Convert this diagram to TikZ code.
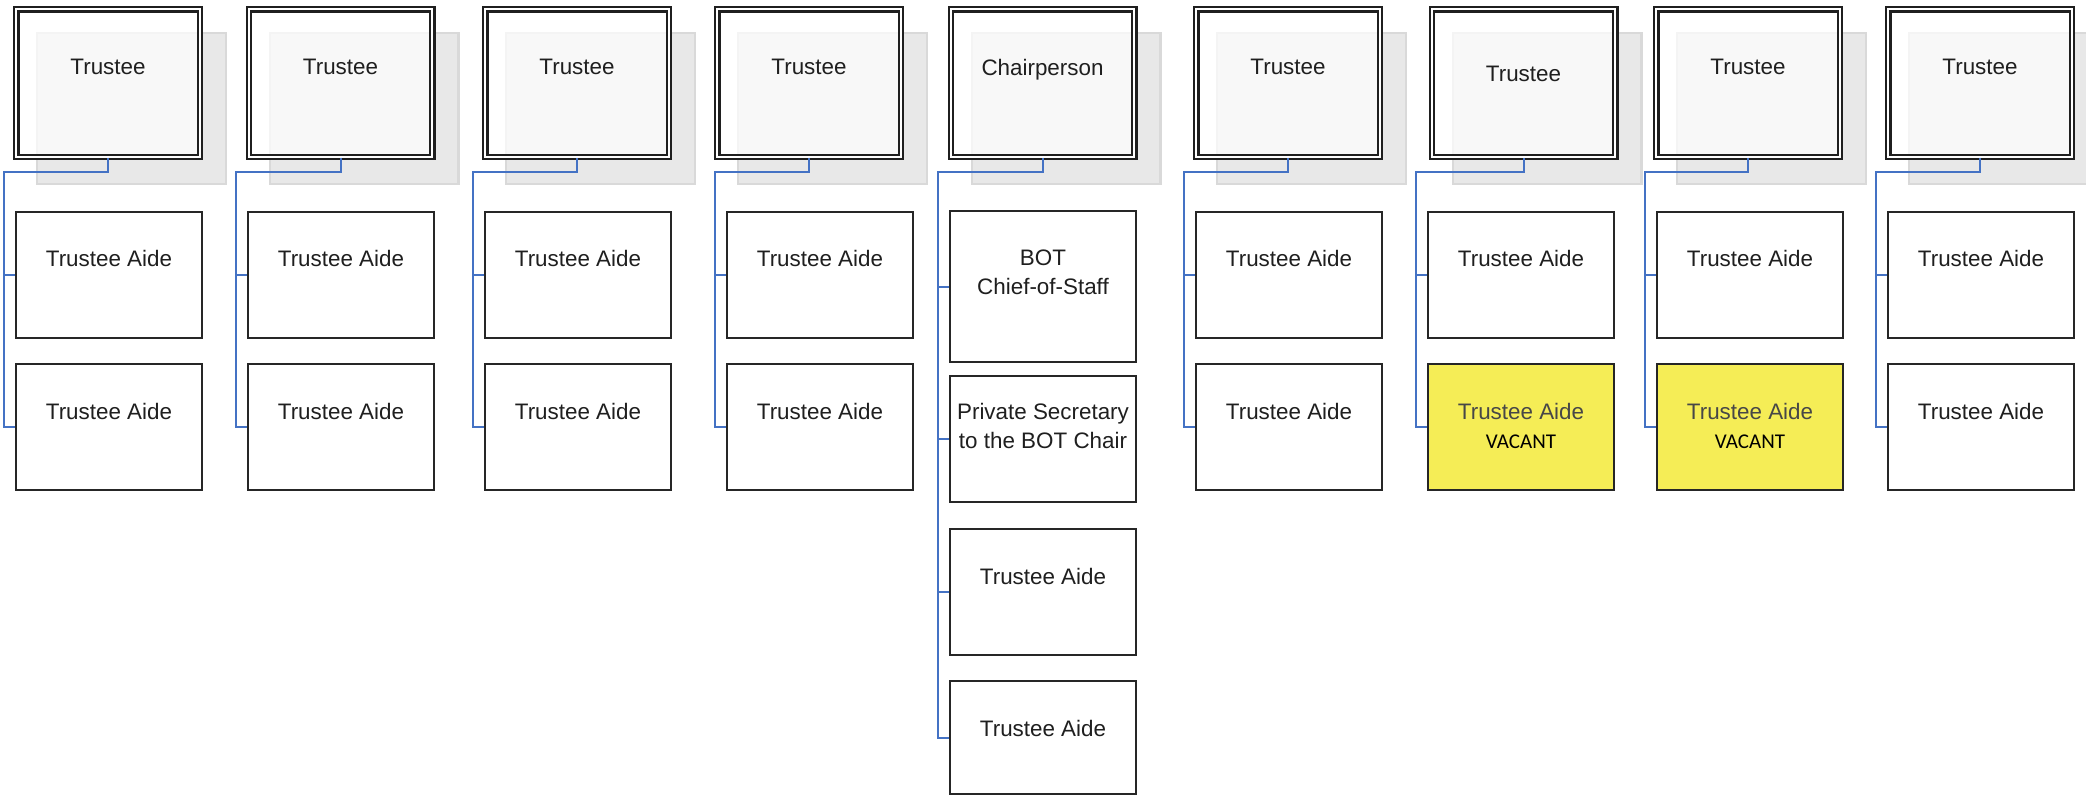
\documentclass[tikz,border=0pt]{standalone}
\usepackage{fontspec}
\setmainfont{Liberation Sans}
\newfontfamily\carlitofont{Carlito}
\usetikzlibrary{calc}

\definecolor{linkblue}{RGB}{68,114,196}
\definecolor{vacantyellow}{RGB}{245,237,86}
\newcommand{\vacantnote}{{\carlitofont\fontsize{10.5pt}{12pt}\selectfont\textcolor{black}{VACANT}}}

\begin{document}
\begin{tikzpicture}[x=0.5pt,y=-0.5pt,
    txt/.style={font=\fontsize{11.2pt}{14.5pt}\selectfont,text=black!88,inner sep=0pt,
      align=center,anchor=north,fill opacity=1,text opacity=1},
    shade/.style={draw=black!15,line width=1.2pt,fill=black!9,
      minimum width=94.3pt,minimum height=75.3pt,inner sep=0pt},
    head/.style={draw=black!88,line width=1.2pt,double=white,double distance=0.85pt,
      fill=white,fill opacity=0.72,minimum width=91.75pt,minimum height=73.75pt,
      inner sep=0pt,label={[txt,yshift=-25.5pt]north:{#1}}},
    box/.style={draw=black!85,line width=1pt,fill=white,minimum width=93pt,
      minimum height=63pt,inner sep=0pt},
    aide/.style={box,label={[txt,yshift=-19.8pt]north:{#1}}},
    link/.style={draw=linkblue,line width=1pt}]
  \useasboundingbox (0,0) rectangle (2086,798);
  \coordinate (bar) at (0,172);

  % shadows behind the trustees
  \node[shade] (s1) at (131.5,108.5) {};
  \node[shade] (s2) at (364,108.5) {};
  \node[shade] (s3) at (600.5,108.5) {};
  \node[shade] (s4) at (832.5,108.5) {};
  \node[shade] (s5) at (1066,108.5) {};
  \node[shade] (s6) at (1311.5,108.5) {};
  \node[shade] (s7) at (1547,108.5) {};
  \node[shade] (s8) at (1771.5,108.5) {};
  \node[shade] (s9) at (2003.5,108.5) {};

  % trustees
  \node[head=Trustee] (t1) at (108,83) {};
  \node[head=Trustee] (t2) at (340.5,83) {};
  \node[head=Trustee] (t3) at (577,83) {};
  \node[head=Trustee] (t4) at (809,83) {};
  \node[head=Chairperson] (t5) at (1042.5,83) {};
  \node[head=Trustee] (t6) at (1288,83) {};
  \node[head={},label={[txt,yshift=-29pt]north:Trustee}] (t7) at (1523.5,83) {};
  \node[head=Trustee] (t8) at (1748,83) {};
  \node[head=Trustee] (t9) at (1980,83) {};

  % aides
  \node[aide=Trustee Aide] (t1a) at (109,274.5) {};
  \node[aide=Trustee Aide] (t1b) at (109,427) {};
  \node[aide=Trustee Aide] (t2a) at (341,274.5) {};
  \node[aide=Trustee Aide] (t2b) at (341,427) {};
  \node[aide=Trustee Aide] (t3a) at (578,274.5) {};
  \node[aide=Trustee Aide] (t3b) at (578,427) {};
  \node[aide=Trustee Aide] (t4a) at (820,274.5) {};
  \node[aide=Trustee Aide] (t4b) at (820,427) {};
  \node[aide={BOT\\Chief-of-Staff},minimum height=75.5pt] (t5a) at (1043,286.5) {};
  \node[box,label={[txt,yshift=-14pt]north:{Private Secretary\\to the BOT Chair}}] (t5b) at (1043,439) {};
  \node[aide=Trustee Aide] (t5c) at (1043,592) {};
  \node[aide=Trustee Aide,minimum height=56.5pt] (t5d) at (1043,737.5) {};
  \node[aide=Trustee Aide] (t6a) at (1289,274.5) {};
  \node[aide=Trustee Aide] (t6b) at (1289,427) {};
  \node[aide=Trustee Aide] (t7a) at (1521,274.5) {};
  \node[box,fill=vacantyellow,label={[txt,text=black!72,yshift=-19.8pt]north:{Trustee Aide\\\vacantnote}}] (t7b) at (1521,427) {};
  \node[aide=Trustee Aide] (t8a) at (1750,274.5) {};
  \node[box,fill=vacantyellow,label={[txt,text=black!72,yshift=-19.8pt]north:{Trustee Aide\\\vacantnote}}] (t8b) at (1750,427) {};
  \node[aide=Trustee Aide] (t9a) at (1981,274.5) {};
  \node[aide=Trustee Aide] (t9b) at (1981,427) {};

  % connectors
  \foreach \c in {1,2,3,4,6,7,8,9} {
    \coordinate (j\c) at ($(t\c a.west |- bar)+(-11,0)$);
    \draw[link] (t\c.south) |- (j\c) |- (t\c b.west);
    \draw[link] (j\c) |- (t\c a.west);
  }
  \coordinate (j5) at ($(t5a.west |- bar)+(-11,0)$);
  \draw[link] (t5.south) |- (j5) |- (t5d.west);
  \draw[link] (j5) |- (t5a.west);
  \draw[link] (j5) |- (t5b.west);
  \draw[link] (j5) |- (t5c.west);
\end{tikzpicture}
\end{document}
